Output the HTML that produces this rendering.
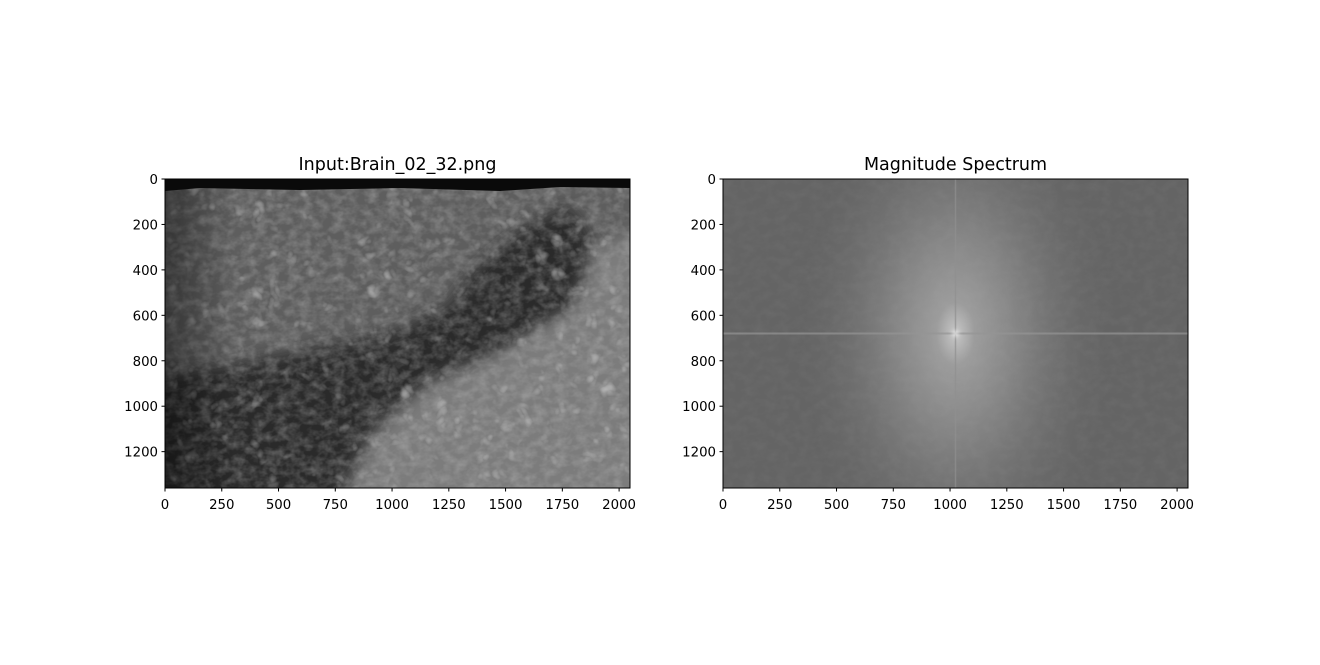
<!DOCTYPE html>
<html><head><meta charset="utf-8"><style>
html,body{margin:0;padding:0;background:#fff;}
text{font-family:"DejaVu Sans","Liberation Sans",sans-serif;font-size:13.3px;fill:#000;}
.t{font-size:17.5px;}
</style></head><body>
<svg id="fig" width="1320" height="660" viewBox="0 0 1320 660" xmlns="http://www.w3.org/2000/svg">
<defs>
<clipPath id="cl"><rect x="165" y="179" width="465" height="309"/></clipPath>
<clipPath id="cr"><rect x="723" y="179" width="465" height="309"/></clipPath>
<filter id="noise" x="0" y="0" width="100%" height="100%">
<feTurbulence type="fractalNoise" baseFrequency="0.09 0.12" numOctaves="3" seed="4"/>
<feColorMatrix type="matrix" values="0 0 0 0 0.5  0 0 0 0 0.5  0 0 0 0 0.5  1.6 0 0 0 -0.55"/>
</filter>
<filter id="noise2" x="0" y="0" width="100%" height="100%">
<feTurbulence type="turbulence" baseFrequency="0.06" numOctaves="2" seed="9"/>
<feColorMatrix type="matrix" values="0 0 0 0 1  0 0 0 0 1  0 0 0 0 1  0 0 0 2.2 -0.9"/>
</filter>
<filter id="blur" x="-50%" y="-50%" width="200%" height="200%"><feGaussianBlur stdDeviation="8"/></filter>
<filter id="blur2" x="-100%" y="-100%" width="300%" height="300%"><feGaussianBlur stdDeviation="2"/></filter>
<linearGradient id="leftdark" x1="0" x2="1" y1="0" y2="0">
<stop offset="0" stop-color="#000" stop-opacity="0.45"/><stop offset="0.15" stop-color="#000" stop-opacity="0"/>
</linearGradient>
<radialGradient id="glow" cx="0.5" cy="0.5" r="0.5">
<stop offset="0" stop-color="#c8c8c8"/><stop offset="0.12" stop-color="#9c9c9c"/><stop offset="0.5" stop-color="#7a7a7a"/><stop offset="1" stop-color="#666" stop-opacity="0"/>
</radialGradient>
</defs>
<g id="left"></g>
<g id="right"></g>
</svg>
<script>
const NS='http://www.w3.org/2000/svg';
const imgW=2048, imgH=1360;
const xTicks=[0,250,500,750,1000,1250,1500,1750,2000];
const yTicks=[0,200,400,600,800,1000,1200];
const titles=['Input:Brain_02_32.png','Magnitude Spectrum'];
const darkRegion=[[-100,880],[300,820],[700,740],[1000,680],[1250,560],[1380,380],[1600,200],[1780,120],[1880,260],[1850,560],[1500,760],[1200,880],[950,1050],[720,1460],[-100,1460]];
const brightRegion=[[2148,200],[1900,300],[1800,560],[1450,780],[1150,920],[920,1150],[780,1460],[2148,1460]];
const spectrumCenter=[1024,680];
function mk(t,a,p){const e=document.createElementNS(NS,t);for(const k in a)e.setAttribute(k,a[k]);p.appendChild(e);return e;}
function axis(ox){
 const W=465,H=309,oy=179;
 const sx=v=>ox+v*W/imgW, sy=v=>oy+v*H/imgH;
 return {sx,sy,W,H,oy};
}
function frame(ox,g,idx){
 const A=axis(ox);
 const b=mk('rect',{x:ox,y:179,width:465,height:309,fill:'none',stroke:'#000','stroke-width':1},g);
 
 
 xTicks.forEach(v=>{
  const x=A.sx(v);
  const l=mk('line',{x1:x,y1:488,x2:x,y2:491.5,stroke:'#000'},g);
  
  
  const t=mk('text',{x:x,y:509,'text-anchor':'middle'},g);t.textContent=v;
  
  
 });
 yTicks.forEach(v=>{
  const y=A.sy(v);
  const l=mk('line',{x1:ox-3.5,y1:y,x2:ox,y2:y,stroke:'#000'},g);
  
  
  const t=mk('text',{x:ox-7,y:y+5,'text-anchor':'end'},g);t.textContent=v;
  
  
 });
 const tt=mk('text',{x:ox+232.5,y:170,'text-anchor':'middle',class:'t'},g);tt.textContent=titles[idx];
 
 
}
(function(){
 const g=document.getElementById('left');const A=axis(165);
 const c=mk('g',{'clip-path':'url(#cl)'},g);
 mk('rect',{x:165,y:179,width:465,height:309,fill:'#5e5e5e'},c);
 const pts=r=>r.map(p=>A.sx(p[0])+','+A.sy(p[1])).join(' ');
 const d=mk('polygon',{points:pts(darkRegion),fill:'#2c2c2c',filter:'url(#blur)'},c);
 
 
 const br=mk('polygon',{points:pts(brightRegion),fill:'#7c7c7c',filter:'url(#blur)'},c);
 
 
 mk('rect',{x:165,y:179,width:465,height:309,fill:'#000',filter:'url(#noise)',opacity:0.45},c);
 mk('rect',{x:165,y:179,width:465,height:309,filter:'url(#noise2)',opacity:0.38},c);
 mk('rect',{x:165,y:179,width:465,height:309,fill:'url(#leftdark)'},c);
 mk('polygon',{points:'165,179 630,179 630,188 560,187 500,191 400,188 300,190 200,188 165,191',fill:'#0a0a0a'},c);
 frame(165,g,0);
})();
(function(){
 const g=document.getElementById('right');const A=axis(723);
 const c=mk('g',{'clip-path':'url(#cr)'},g);
 mk('rect',{x:723,y:179,width:465,height:309,fill:'#646464'},c);
 const cx=A.sx(spectrumCenter[0]),cy=A.sy(spectrumCenter[1]);
 mk('ellipse',{cx:cx,cy:cy,rx:160,ry:260,fill:'url(#glow)'},c);
 mk('rect',{x:723,y:179,width:465,height:309,fill:'#000',filter:'url(#noise)',opacity:0.08},c);
 const v=mk('line',{x1:cx,y1:179,x2:cx,y2:488,stroke:'#909090','stroke-width':1.5,opacity:0.7},c);
 
 
 const h=mk('line',{x1:723,y1:cy,x2:1188,y2:cy,stroke:'#959595','stroke-width':2,opacity:0.7},c);
 
 
 const dot=mk('circle',{cx:cx,cy:cy,r:3,fill:'#eee',filter:'url(#blur2)'},c);
 
 
 frame(723,g,1);
})();
</script>
</body></html>
